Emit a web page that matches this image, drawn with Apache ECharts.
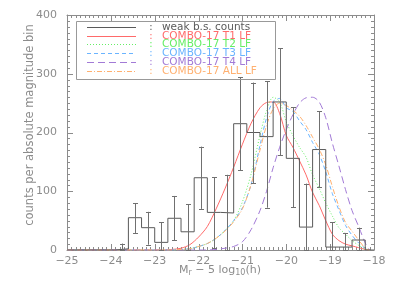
<!DOCTYPE html>
<html><head><meta charset="utf-8">
<script src="https://cdn.jsdelivr.net/npm/echarts@6/dist/echarts.min.js"></script>
<style>html,body{margin:0;padding:0;background:#fff}#c{width:395px;height:282px}</style>
</head><body><div id="c"></div>
<script>
// Histogram of weak b.s. counts (bin centres, counts, error bar ends)
const binCenters = [-23.75,-23.45,-23.15,-22.85,-22.55,-22.25,-21.95,-21.65,-21.35,-21.05,-20.75,-20.45,-20.15,-19.85,-19.55,-19.25,-18.95,-18.65,-18.35];
const binCounts  = [2,55,38,13,54,31,123,64,63,215,200,193,252,156,39,171,5,5,17];
const errUpper   = [11,80,65,47,92,78,176,124,128,294,285,287,343,243,113,236,47,29,38];
const errLower   = [0,29,9,0,17,0,70,3,0,136,114,72,161,73,0,107,0,0,0];
const binWidth = 0.3;

// COMBO-17 luminosity functions
const lfMags = [-25,-22.8,-22.6,-22.4,-22.2,-22.0,-21.8,-21.6,-21.4,-21.2,-21.0,-20.8,-20.6,-20.45,-20.3,-20.15,-20.0,-19.85,-19.7,-19.55,-19.4,-19.25,-19.1,-18.95,-18.8,-18.65,-18.5,-18.35,-18.2,-18.1];
const lfT1  = [0,0,1,3,9,22,40,70,104,141,180,216,242,251,252,232,195,175,152,128,98,76,50,27,16,10,7,4,1,0];
const lfT2  = [0,0,0,1,2,6,11,20,33,50,82,130,195,237,260,252,218,195,175,158,128,105,80,58,38,27,16,8,2,0];
const lfT3  = [0,0,0,1,2,6,11,20,33,50,72,112,178,225,253,258,242,236,220,205,183,163,133,96,68,42,25,12,3,0];
const lfT4  = [0,0,0,0,0,0,0,1,3,6,14,35,67,100,140,175,205,230,250,259,260,252,225,182,143,103,67,40,12,0];
const lfAll = [0,0,0,1,2,6,11,20,32,48,70,112,170,212,240,250,246,238,228,212,192,172,145,108,74,47,32,17,3,0];

const legendLabels = ['weak b.s. counts','COMBO-17 T1 LF','COMBO-17 T2 LF','COMBO-17 T3 LF','COMBO-17 T4 LF','COMBO-17 ALL LF'];

// axis ranges
const xMin = -25, xMax = -18, xMajor = 1, xMinorSplit = 10;
const yMin = 0, yMax = 400, yMajor = 100, yMinorSplit = 10;

const FONT = 'DejaVu Sans';
const AX = '#8c8c8c';
const histColor = '#5a5a5a';
const errColor = '#707070';
const styles = [
  {color:histColor, dash:null},
  {color:'#ff6a6a', dash:null},
  {color:'#66ee66', dash:[1,2]},
  {color:'#6ab4ff', dash:[4,3]},
  {color:'#a27ad6', dash:[7,4]},
  {color:'#ffb070', dash:[5,2,1,2]}
];

const histData = [[xMin,0]];
binCenters.forEach((c,i)=>histData.push([c-binWidth/2, binCounts[i]]));
histData.push([binCenters[binCenters.length-1]+binWidth/2, 0]);
histData.push([xMax,0]);

const fmt = v => v < 0 ? '\u2212' + Math.abs(v) : String(v);

function xAx(pos){
  return {type:'value',min:xMin,max:xMax,interval:xMajor,position:pos,
    axisLine:{show:true,onZero:false,lineStyle:{color:AX,width:1}},
    axisTick:{show:false}, minorTick:{show:false}, splitLine:{show:false},
    axisLabel:{show:pos==='bottom',color:AX,fontSize:11,fontFamily:FONT,margin:6,formatter:fmt}};
}
function yAx(pos){
  return {type:'value',min:yMin,max:yMax,interval:yMajor,position:pos,
    axisLine:{show:true,onZero:false,lineStyle:{color:AX,width:1}},
    axisTick:{show:false}, minorTick:{show:false}, splitLine:{show:false},
    axisLabel:{show:pos==='left',color:AX,fontSize:11,fontFamily:FONT,margin:10}};
}

function lfSeries(vals, st){
  return {type:'line', xAxisIndex:0, yAxisIndex:0, symbol:'none', smooth:0.3,
    data: lfMags.map((m,i)=>[m, vals[i]]),
    lineStyle:{color:st.color, width:1, type: st.dash || 'solid'}, z:3};
}

const rowY0 = 26.6, rowStep = 8.9;
const graphics = [{type:'rect', shape:{x:76.5,y:21.5,width:199,height:58}, style:{fill:'none',stroke:'#999',lineWidth:1}, z:10}];
legendLabels.forEach((t,i)=>{
  const y = Math.round(rowY0 + i*rowStep) + 0.5;
  const st = styles[i];
  graphics.push({type:'line', shape:{x1:87,y1:y,x2:136,y2:y}, style:{stroke:st.color,lineWidth:1,lineDash:st.dash||null}, z:10});
  graphics.push({type:'text', x:151, y:y, style:{text:':', fill:st.color, font:'10px '+FONT, align:'center', verticalAlign:'middle', textAlign:'center', textVerticalAlign:'middle'}, z:10});
  graphics.push({type:'text', x:162, y:y, style:{text:t, fill:st.color, font:'10.5px '+FONT, align:'left', verticalAlign:'middle', textAlign:'left', textVerticalAlign:'middle'}, z:10});
});
graphics.push({type:'text', x:30, y:125, rotation:Math.PI/2,
  style:{text:'counts per absolute magnitude bin', fill:AX, font:'11.5px '+FONT, align:'center', verticalAlign:'middle', textAlign:'center', textVerticalAlign:'middle'}});
graphics.push({type:'text', x:220, y:270,
  style:{text:'M{s|r} \u2212 5 log{s|10}(h)', fill:AX, font:'11px '+FONT, align:'center', verticalAlign:'middle', textAlign:'center', textVerticalAlign:'middle',
    rich:{s:{fontSize:8, fontFamily:FONT, fill:AX, color:AX, padding:[6,0,0,0]}}}});

const option = {
  animation:false,
  backgroundColor:'#fff',
  grid:{left:67,right:21,top:15,bottom:32},
  xAxis:[xAx('bottom'), xAx('top')],
  yAxis:[yAx('left'), yAx('right')],
  series:[
    lfSeries(lfT1, styles[1]),
    lfSeries(lfT2, styles[2]),
    lfSeries(lfT3, styles[3]),
    lfSeries(lfT4, styles[4]),
    lfSeries(lfAll, styles[5]),
    {type:'line', xAxisIndex:0, yAxisIndex:0, step:'end', symbol:'none', data:histData,
      lineStyle:{color:histColor,width:1}, z:4},
    {type:'custom', xAxisIndex:0, yAxisIndex:0, z:5,
      data: binCenters.map((c,i)=>[c, errLower[i], errUpper[i]]),
      renderItem:(params, api)=>{
        const x = api.value(0);
        const lo = api.coord([x, api.value(1)]);
        const hi = api.coord([x, api.value(2)]);
        const px = Math.round(lo[0]) + 0.5, w = 2.5;
        const s = {stroke:errColor, lineWidth:1};
        return {type:'group', children:[
          {type:'line', shape:{x1:px,y1:lo[1],x2:px,y2:hi[1]}, style:s},
          {type:'line', shape:{x1:px-w,y1:Math.round(hi[1])+0.5,x2:px+w,y2:Math.round(hi[1])+0.5}, style:s},
          {type:'line', shape:{x1:px-w,y1:Math.round(lo[1])+0.5,x2:px+w,y2:Math.round(lo[1])+0.5}, style:s}
        ]};
      }}
  ]
};
const chart = echarts.init(document.getElementById('c'), null, {renderer:'canvas'});
chart.setOption(option);

// inward IDL-style ticks on all four sides, placed through the axis scales
const tickGfx = [];
const yB = chart.convertToPixel({yAxisIndex:0}, yMin), yT = chart.convertToPixel({yAxisIndex:0}, yMax);
const xL = chart.convertToPixel({xAxisIndex:0}, xMin), xR = chart.convertToPixel({xAxisIndex:0}, xMax);
const tickStyle = {stroke:AX, lineWidth:1};
const nx = Math.round((xMax-xMin)/xMajor*xMinorSplit);
for (let k=0;k<=nx;k++){
  const v = xMin + k*xMajor/xMinorSplit;
  const len = (k % xMinorSplit === 0) ? 6 : 3;
  const p = Math.round(chart.convertToPixel({xAxisIndex:0}, v)) + 0.5;
  tickGfx.push({type:'line', silent:true, shape:{x1:p,y1:yB,x2:p,y2:yB-len}, style:tickStyle});
  tickGfx.push({type:'line', silent:true, shape:{x1:p,y1:yT,x2:p,y2:yT+len}, style:tickStyle});
}
const ny = Math.round((yMax-yMin)/yMajor*yMinorSplit);
for (let k=0;k<=ny;k++){
  const v = yMin + k*yMajor/yMinorSplit;
  const len = (k % yMinorSplit === 0) ? 6 : 3;
  const p = Math.round(chart.convertToPixel({yAxisIndex:0}, v)) + 0.5;
  tickGfx.push({type:'line', silent:true, shape:{x1:xL,y1:p,x2:xL+len,y2:p}, style:tickStyle});
  tickGfx.push({type:'line', silent:true, shape:{x1:xR,y1:p,x2:xR-len,y2:p}, style:tickStyle});
}
chart.setOption({graphic: graphics.concat(tickGfx)});
</script></body></html>
